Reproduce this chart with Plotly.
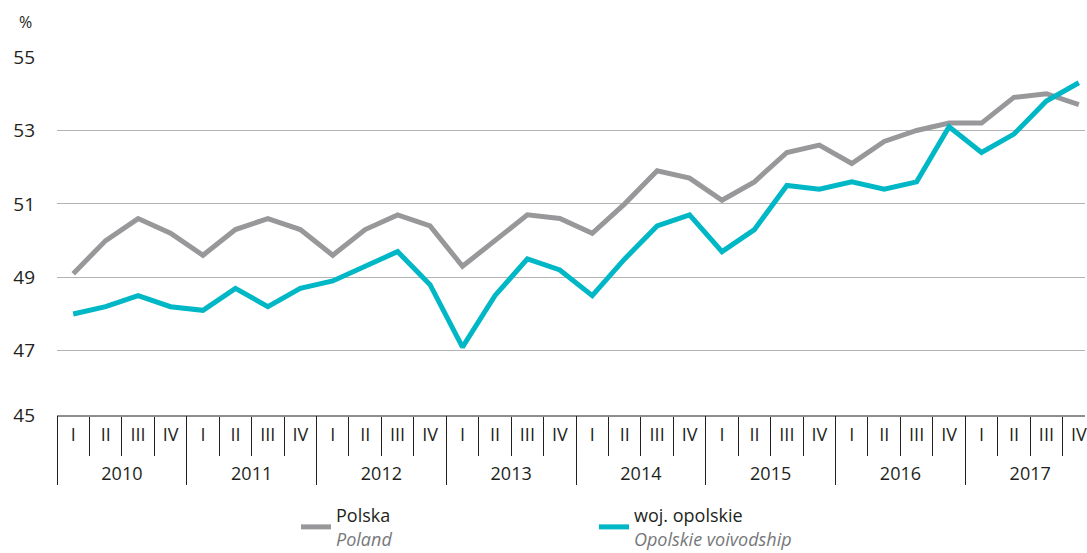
import plotly.graph_objects as go

# ---- data ----
years = ["2010", "2011", "2012", "2013", "2014", "2015", "2016", "2017"]
quarters = ["I", "II", "III", "IV"]
polska = [49.1, 50.0, 50.6, 50.2, 49.6, 50.3, 50.6, 50.3,
          49.6, 50.3, 50.7, 50.4, 49.3, 50.0, 50.7, 50.6,
          50.2, 51.0, 51.9, 51.7, 51.1, 51.6, 52.4, 52.6,
          52.1, 52.7, 53.0, 53.2, 53.2, 53.9, 54.0, 53.7]
opolskie = [48.0, 48.2, 48.5, 48.2, 48.1, 48.7, 48.2, 48.7,
            48.9, 49.3, 49.7, 48.8, 47.1, 48.5, 49.5, 49.2,
            48.5, 49.5, 50.4, 50.7, 49.7, 50.3, 51.5, 51.4,
            51.6, 51.4, 51.6, 53.1, 52.4, 52.9, 53.8, 54.3]
y_tick_labels = ["45", "47", "49", "51", "53", "55"]
y_tick_values = [45.25, 47, 49, 51, 53, 55]

n = len(polska)
idx = list(range(n))
q_labels = [quarters[i % 4] for i in idx]
q_bounds = [i - 0.5 for i in range(n + 1)]
y_centers = [4 * i + 1.5 for i in range(len(years))]
y_bounds = [4 * i - 0.5 for i in range(len(years) + 1)]

TEXT = "#231f20"
GRAY = "#98989b"
TEAL = "#00b7c6"
FONT = "Open Sans"

fig = go.Figure()
fig.add_trace(go.Scatter(
    x=idx, y=polska, mode="lines", name="Polska<br><span style='color:#77787b'><i>Poland</i></span>",
    line=dict(color=GRAY, width=5), hoverinfo="skip"))
fig.add_trace(go.Scatter(
    x=idx, y=opolskie, mode="lines",
    name="woj. opolskie<br><span style='color:#77787b'><i>Opolskie voivodship</i></span>",
    line=dict(color=TEAL, width=5), hoverinfo="skip"))
# year-level axis (labels + dividers) lives on an overlaying x axis
fig.add_trace(go.Scatter(
    x=y_centers, y=[None] * len(y_centers), xaxis="x2", yaxis="y", mode="lines",
    showlegend=False, hoverinfo="skip"))

xr = [-0.5, 31.19]
fig.update_layout(
    width=1087, height=553,
    margin=dict(l=57, r=0, t=57, b=138),
    paper_bgcolor="white", plot_bgcolor="white",
    font=dict(family=FONT, color=TEXT, size=18),
    showlegend=True,
    legend=dict(orientation="h", xref="container", yref="container", x=0.2723, y=0.1013,
                xanchor="left", yanchor="top",
                font=dict(size=18, color=TEXT), entrywidth=253, entrywidthmode="pixels",
                bgcolor="rgba(0,0,0,0)"),
    xaxis=dict(range=xr, tickmode="array", tickvals=idx, ticktext=q_labels, ticks="",
               showline=True, linecolor="#8e8e8e", linewidth=2, showgrid=False, zeroline=False,
               tickfont=dict(size=18, color=TEXT), ticklabelstandoff=2, ticklabeloverflow="allow",
               minor=dict(tickmode="array", tickvals=q_bounds, ticks="outside", ticklen=39,
                          tickcolor=TEXT, tickwidth=1, showgrid=False)),
    xaxis2=dict(range=xr, overlaying="x", anchor="y", side="bottom", tickmode="array",
                tickvals=y_centers, ticktext=years, ticks="", showline=False, showgrid=False,
                zeroline=False, tickfont=dict(size=18, color=TEXT), ticklabelstandoff=46,
                minor=dict(tickmode="array", tickvals=y_bounds, ticks="outside", ticklen=69,
                           tickcolor=TEXT, tickwidth=1, showgrid=False)),
    yaxis=dict(range=[45.25, 55], tickmode="array", tickvals=y_tick_values, ticktext=y_tick_labels,
               ticks="", showline=False, gridcolor="#b3b3b3", gridwidth=1.3, zeroline=False,
               tickfont=dict(size=19, color=TEXT), ticklabelstandoff=21),
    annotations=[dict(text="%", xref="paper", yref="paper", x=-0.031, y=1.098,
                      xanchor="center", yanchor="middle", showarrow=False,
                      font=dict(size=16, color=TEXT))],
)

fig.write_html("out.html", config={"displayModeBar": False},
               post_script="document.body.style.margin='0';")
